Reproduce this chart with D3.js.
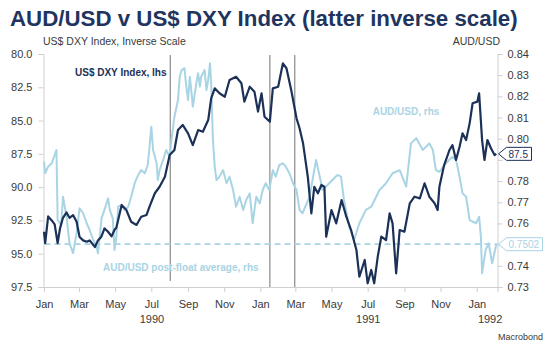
<!DOCTYPE html>
<html>
<head>
<meta charset="utf-8">
<script src="https://cdn.jsdelivr.net/npm/d3@7"></script>
<style>
    body { margin: 0; background: #fff; }
    svg { font-family: "Liberation Sans", Arial, sans-serif; }
</style>
</head>
<body>
<svg id="chart" width="550" height="349"></svg>
<script>

// US$ DXY index (plotted on an inverted left scale)
const dxy = [
    ["1990-01-01", 93.35], ["1990-01-03", 94.2], ["1990-01-08", 92.2], ["1990-01-14", 92.5],
    ["1990-01-19", 92.8], ["1990-01-24", 94.2], ["1990-01-28", 93.1], ["1990-02-02", 92.3],
    ["1990-02-08", 91.9], ["1990-02-13", 92.3], ["1990-02-19", 92.1], ["1990-02-25", 92.6],
    ["1990-03-02", 93.75], ["1990-03-08", 94.0], ["1990-03-14", 94.1], ["1990-03-19", 94.0],
    ["1990-03-28", 94.5], ["1990-04-02", 94.0], ["1990-04-08", 93.7], ["1990-04-13", 93.1],
    ["1990-04-19", 93.35], ["1990-04-25", 93.7], ["1990-04-30", 93.2], ["1990-05-03", 93.05],
    ["1990-05-12", 91.34], ["1990-05-20", 91.72], ["1990-05-28", 92.6], ["1990-06-06", 92.84],
    ["1990-06-14", 92.22], ["1990-06-23", 92.09], ["1990-06-28", 91.47], ["1990-07-07", 90.46],
    ["1990-07-15", 89.97], ["1990-07-24", 89.22], ["1990-08-01", 87.59], ["1990-08-09", 87.21],
    ["1990-08-15", 85.71], ["1990-08-23", 85.33], ["1990-09-01", 85.96], ["1990-09-09", 86.84],
    ["1990-09-18", 85.71], ["1990-09-26", 85.84], ["1990-10-05", 84.96], ["1990-10-10", 83.33],
    ["1990-10-16", 82.58], ["1990-10-24", 82.95], ["1990-11-02", 83.21], ["1990-11-10", 81.95],
    ["1990-11-21", 81.71], ["1990-11-30", 82.2], ["1990-12-05", 83.58], ["1990-12-14", 82.46],
    ["1990-12-22", 82.83], ["1990-12-28", 84.33], ["1991-01-03", 82.95], ["1991-01-08", 84.71],
    ["1991-01-17", 85.08], ["1991-01-22", 82.58], ["1991-01-31", 82.46], ["1991-02-08", 80.7],
    ["1991-02-14", 81.07], ["1991-02-22", 82.7], ["1991-03-03", 84.83], ["1991-03-08", 85.56],
    ["1991-03-14", 86.71], ["1991-03-22", 89.22], ["1991-03-28", 91.97], ["1991-04-02", 89.97],
    ["1991-04-08", 90.46], ["1991-04-14", 89.84], ["1991-04-19", 89.97], ["1991-04-22", 93.72],
    ["1991-05-01", 91.72], ["1991-05-09", 92.72], ["1991-05-18", 90.97], ["1991-05-26", 92.22],
    ["1991-06-03", 93.22], ["1991-06-12", 94.72], ["1991-06-17", 96.73], ["1991-06-26", 95.47],
    ["1991-07-01", 97.22], ["1991-07-07", 96.22], ["1991-07-12", 97.22], ["1991-07-18", 95.22],
    ["1991-07-24", 93.72], ["1991-08-01", 93.97], ["1991-08-07", 91.97], ["1991-08-12", 92.72],
    ["1991-08-18", 96.47], ["1991-08-24", 93.22], ["1991-09-01", 93.35], ["1991-09-10", 91.22],
    ["1991-09-18", 90.72], ["1991-09-27", 90.84], ["1991-10-05", 89.71], ["1991-10-13", 90.72],
    ["1991-10-22", 91.22], ["1991-10-27", 91.72], ["1991-10-30", 89.97], ["1991-11-07", 88.34],
    ["1991-11-16", 87.21], ["1991-11-21", 86.84], ["1991-11-27", 87.96], ["1991-12-03", 86.96],
    ["1991-12-08", 85.96], ["1991-12-14", 86.46], ["1991-12-20", 85.21], ["1991-12-25", 83.7],
    ["1992-01-02", 83.58], ["1992-01-05", 82.95], ["1992-01-10", 86.46], ["1992-01-14", 87.96],
    ["1992-01-19", 86.46], ["1992-01-25", 87.08], ["1992-01-31", 87.59], ["1992-02-03", 87.5]
];

// AUD/USD (right scale)
const audusd = [
    ["1990-01-01", 0.7892], ["1990-01-03", 0.7837], ["1990-01-08", 0.7868], ["1990-01-14", 0.7884],
    ["1990-01-19", 0.7923], ["1990-01-22", 0.7947], ["1990-01-24", 0.7616], ["1990-01-30", 0.7593],
    ["1990-02-02", 0.7726], ["1990-02-08", 0.7632], ["1990-02-13", 0.7506], ["1990-02-19", 0.7460],
    ["1990-02-25", 0.7554], ["1990-03-02", 0.7672], ["1990-03-08", 0.7648], ["1990-03-14", 0.7601],
    ["1990-03-19", 0.7569], ["1990-03-25", 0.7522], ["1990-03-31", 0.7490], ["1990-04-02", 0.7459],
    ["1990-04-05", 0.7537], ["1990-04-08", 0.7624], ["1990-04-13", 0.7664], ["1990-04-19", 0.7719],
    ["1990-04-22", 0.7664], ["1990-04-27", 0.7624], ["1990-04-30", 0.7475], ["1990-05-03", 0.7537],
    ["1990-05-06", 0.7679], ["1990-05-12", 0.7687], ["1990-05-17", 0.7664], ["1990-05-23", 0.7679],
    ["1990-05-28", 0.7726], ["1990-06-03", 0.7790], ["1990-06-09", 0.7829], ["1990-06-14", 0.7852],
    ["1990-06-20", 0.7837], ["1990-06-25", 0.7876], ["1990-06-28", 0.7962], ["1990-07-01", 0.8057],
    ["1990-07-04", 0.7947], ["1990-07-10", 0.7884], ["1990-07-12", 0.7805], ["1990-07-15", 0.7852],
    ["1990-07-21", 0.7900], ["1990-07-26", 0.7947], ["1990-08-01", 0.7915], ["1990-08-04", 0.7994],
    ["1990-08-09", 0.8104], ["1990-08-15", 0.8183], ["1990-08-18", 0.8293], ["1990-08-21", 0.8324],
    ["1990-08-26", 0.8333], ["1990-08-29", 0.8246], ["1990-09-01", 0.8183], ["1990-09-04", 0.8293],
    ["1990-09-07", 0.8214], ["1990-09-09", 0.8151], ["1990-09-15", 0.8262], ["1990-09-18", 0.8309],
    ["1990-09-21", 0.8246], ["1990-09-23", 0.8293], ["1990-09-29", 0.8324], ["1990-10-02", 0.8230],
    ["1990-10-05", 0.8277], ["1990-10-08", 0.8356], ["1990-10-10", 0.8262], ["1990-10-13", 0.7994],
    ["1990-10-16", 0.7868], ["1990-10-19", 0.7805], ["1990-10-24", 0.7821], ["1990-10-30", 0.7852],
    ["1990-11-05", 0.7790], ["1990-11-10", 0.7821], ["1990-11-16", 0.7758], ["1990-11-21", 0.7679],
    ["1990-11-27", 0.7726], ["1990-12-03", 0.7664], ["1990-12-08", 0.7711], ["1990-12-14", 0.7742],
    ["1990-12-19", 0.7601], ["1990-12-25", 0.7726], ["1990-12-31", 0.7695], ["1991-01-05", 0.7758],
    ["1991-01-10", 0.7790], ["1991-01-16", 0.7758], ["1991-01-22", 0.7852], ["1991-01-27", 0.7821],
    ["1991-02-02", 0.7876], ["1991-02-08", 0.7884], ["1991-02-13", 0.7868], ["1991-02-19", 0.7837],
    ["1991-02-25", 0.7790], ["1991-03-03", 0.7758], ["1991-03-08", 0.7664], ["1991-03-13", 0.7648],
    ["1991-03-25", 0.7726], ["1991-04-05", 0.7900], ["1991-04-16", 0.7758], ["1991-04-27", 0.7790],
    ["1991-05-11", 0.7829], ["1991-05-17", 0.7821], ["1991-05-22", 0.7711], ["1991-05-31", 0.7585],
    ["1991-06-08", 0.7522], ["1991-06-17", 0.7601], ["1991-06-28", 0.7664], ["1991-07-07", 0.7679],
    ["1991-07-21", 0.7758], ["1991-08-01", 0.7790], ["1991-08-12", 0.7837], ["1991-08-24", 0.7852],
    ["1991-09-04", 0.7774], ["1991-09-12", 0.7978], ["1991-09-21", 0.8002], ["1991-10-02", 0.7947],
    ["1991-10-13", 0.7978], ["1991-10-19", 0.7947], ["1991-10-24", 0.7852], ["1991-10-30", 0.7844],
    ["1991-11-10", 0.7884], ["1991-11-21", 0.7915], ["1991-11-27", 0.7900], ["1991-12-03", 0.7821],
    ["1991-12-08", 0.7742], ["1991-12-14", 0.7726], ["1991-12-20", 0.7616], ["1991-12-31", 0.7601],
    ["1992-01-05", 0.7632], ["1992-01-08", 0.7537], ["1992-01-10", 0.7365], ["1992-01-16", 0.7475],
    ["1992-01-21", 0.7506], ["1992-01-27", 0.7412], ["1992-02-03", 0.7502]
];

// AUD/USD post-float average
const postFloatAverage = 0.7502;

// event markers (Iraq invades Kuwait, air war starts, ceasefire)
const eventDates = ["1990-08-02", "1991-01-17", "1991-02-28"];

const leftTicks = [80.0, 82.5, 85.0, 87.5, 90.0, 92.5, 95.0, 97.5];
const rightTicks = [0.84, 0.83, 0.82, 0.81, 0.80, 0.79, 0.78, 0.77, 0.76, 0.75, 0.74, 0.73];
const years = ["1990", "1991", "1992"];

const parse = d3.timeParse("%Y-%m-%d");
const navy = "#1c3157";
const lightBlue = "#a9d4e4";
const axisGrey = "#cfcfcf";
const textGrey = "#3a3a3a";

const svg = d3.select("#chart");

// plot box
const plotLeft = 43.5, plotRight = 497.5, plotTop = 54, plotBottom = 287;

const x = d3.scaleTime()
    .domain([parse("1990-01-01"), parse("1992-02-05")])
    .range([plotLeft + 0.5, plotRight]);

// inverse scale: small index values at the top
const yLeft = d3.scaleLinear().domain([80, 97.5]).range([plotTop, plotBottom]);
const yRight = d3.scaleLinear().domain([0.73, 0.84]).range([plotBottom, plotTop]);

const lastDxy = dxy[dxy.length - 1][1];
const tagPositions = [yLeft(lastDxy), yRight(postFloatAverage)];

// title
svg.append("text")
    .attr("x", 10).attr("y", 26)
    .attr("font-size", 22.3).attr("font-weight", "bold")
    .attr("fill", "#1f3560")
    .text("AUD/USD v US$ DXY Index (latter inverse scale)");

// axis titles
svg.append("text")
    .attr("x", 43).attr("y", 45)
    .attr("font-size", 10.5).attr("fill", textGrey)
    .text("US$ DXY Index, Inverse Scale");

svg.append("text")
    .attr("x", 500).attr("y", 45)
    .attr("text-anchor", "end")
    .attr("font-size", 10.5).attr("fill", textGrey)
    .text("AUD/USD");

// left axis
const gLeft = svg.append("g")
    .attr("transform", `translate(${plotLeft},0)`)
    .call(d3.axisLeft(yLeft).tickValues(leftTicks).tickFormat(d3.format(".1f")).tickSize(5).tickPadding(6));

// right axis
const gRight = svg.append("g")
    .attr("transform", `translate(${plotRight},0)`)
    .call(d3.axisRight(yRight).tickValues(rightTicks).tickFormat(d3.format(".2f")).tickSize(5).tickPadding(5));

// bottom axis, ticks every two months
const gBottom = svg.append("g")
    .attr("transform", `translate(0,${plotBottom})`)
    .call(d3.axisBottom(x).ticks(d3.timeMonth.every(2)).tickFormat(d3.timeFormat("%b")).tickSize(5).tickPadding(4));

[gLeft, gRight, gBottom].forEach((g) => {
    g.select(".domain").attr("stroke", axisGrey);
    g.selectAll(".tick line").attr("stroke", axisGrey);
    g.selectAll(".tick text")
        .attr("fill", textGrey)
        .attr("font-size", 11)
        .attr("font-family", "Liberation Sans, Arial, sans-serif");
});
gBottom.selectAll(".tick text").attr("dy", "1.1em");

// right tick labels hidden behind the last value tags
gRight.selectAll(".tick")
    .filter((d) => tagPositions.some((p) => Math.abs(yRight(d) - p) < 8))
    .select("text")
    .remove();

// year labels, centred on the visible part of each year
const [d0, d1] = x.domain();
years.forEach((yr) => {
    let a = parse(yr + "-01-01"), b = parse(yr + "-12-31");
    if (a < d0) a = d0;
    if (b > d1) b = d1;
    svg.append("text")
        .attr("x", (x(a) + x(b)) / 2 + (yr === "1992" ? 3 : 0))
        .attr("y", 323)
        .attr("text-anchor", "middle")
        .attr("font-size", 11).attr("fill", textGrey)
        .text(yr);
});

// event lines
svg.selectAll(".event")
    .data(eventDates)
    .enter()
    .append("line")
    .classed("event", true)
    .attr("x1", (d) => x(parse(d)))
    .attr("x2", (d) => x(parse(d)))
    .attr("y1", plotTop + 1)
    .attr("y2", (d, i) => (i === 0 ? plotBottom - 6 : plotBottom))
    .attr("stroke", "#8a8a8a")
    .attr("stroke-width", 1.2);

// post-float average
svg.append("line")
    .attr("x1", plotLeft + 1).attr("x2", plotRight)
    .attr("y1", yRight(postFloatAverage)).attr("y2", yRight(postFloatAverage))
    .attr("stroke", lightBlue)
    .attr("stroke-width", 1.8)
    .attr("stroke-dasharray", "6,4");

// series
const audLine = d3.line().x((d) => x(parse(d[0]))).y((d) => yRight(d[1]));
const dxyLine = d3.line().x((d) => x(parse(d[0]))).y((d) => yLeft(d[1]));

svg.append("path")
    .datum(audusd)
    .attr("d", audLine)
    .attr("fill", "none")
    .attr("stroke", lightBlue)
    .attr("stroke-width", 2)
    .attr("stroke-linejoin", "round");

svg.append("path")
    .datum(dxy)
    .attr("d", dxyLine)
    .attr("fill", "none")
    .attr("stroke", navy)
    .attr("stroke-width", 2.2)
    .attr("stroke-linejoin", "round");

// series labels
svg.append("text")
    .attr("x", 75).attr("y", 76)
    .attr("font-size", 10).attr("font-weight", "bold").attr("fill", navy)
    .text("US$ DXY Index, lhs");

svg.append("text")
    .attr("x", 406).attr("y", 115)
    .attr("text-anchor", "middle")
    .attr("font-size", 10).attr("font-weight", "bold").attr("fill", lightBlue)
    .text("AUD/USD, rhs");

svg.append("text")
    .attr("x", 103).attr("y", 271)
    .attr("font-size", 10).attr("font-weight", "bold").attr("fill", lightBlue)
    .text("AUD/USD post-float average, rhs");

// last value tags
function valueTag(yPos, label, colour, width) {
    const h = 13, x0 = plotRight + 1, bx = x0 + 8;
    const path = `M${x0},${yPos} L${bx},${yPos - h / 2} L${bx + width},${yPos - h / 2} ` +
        `L${bx + width},${yPos + h / 2} L${bx},${yPos + h / 2} Z`;
    svg.append("path")
        .attr("d", path)
        .attr("fill", "#fff")
        .attr("stroke", colour)
        .attr("stroke-width", 1);
    svg.append("text")
        .attr("x", bx + 2).attr("y", yPos + 4)
        .attr("font-size", 10).attr("fill", colour)
        .text(label);
}

valueTag(tagPositions[0], d3.format(".1f")(lastDxy), navy, 25);
valueTag(tagPositions[1], d3.format(".4f")(postFloatAverage), lightBlue, 36);

// source
svg.append("text")
    .attr("x", 543).attr("y", 340)
    .attr("text-anchor", "end")
    .attr("font-size", 9).attr("fill", textGrey)
    .text("Macrobond");

</script>
</body>
</html>
